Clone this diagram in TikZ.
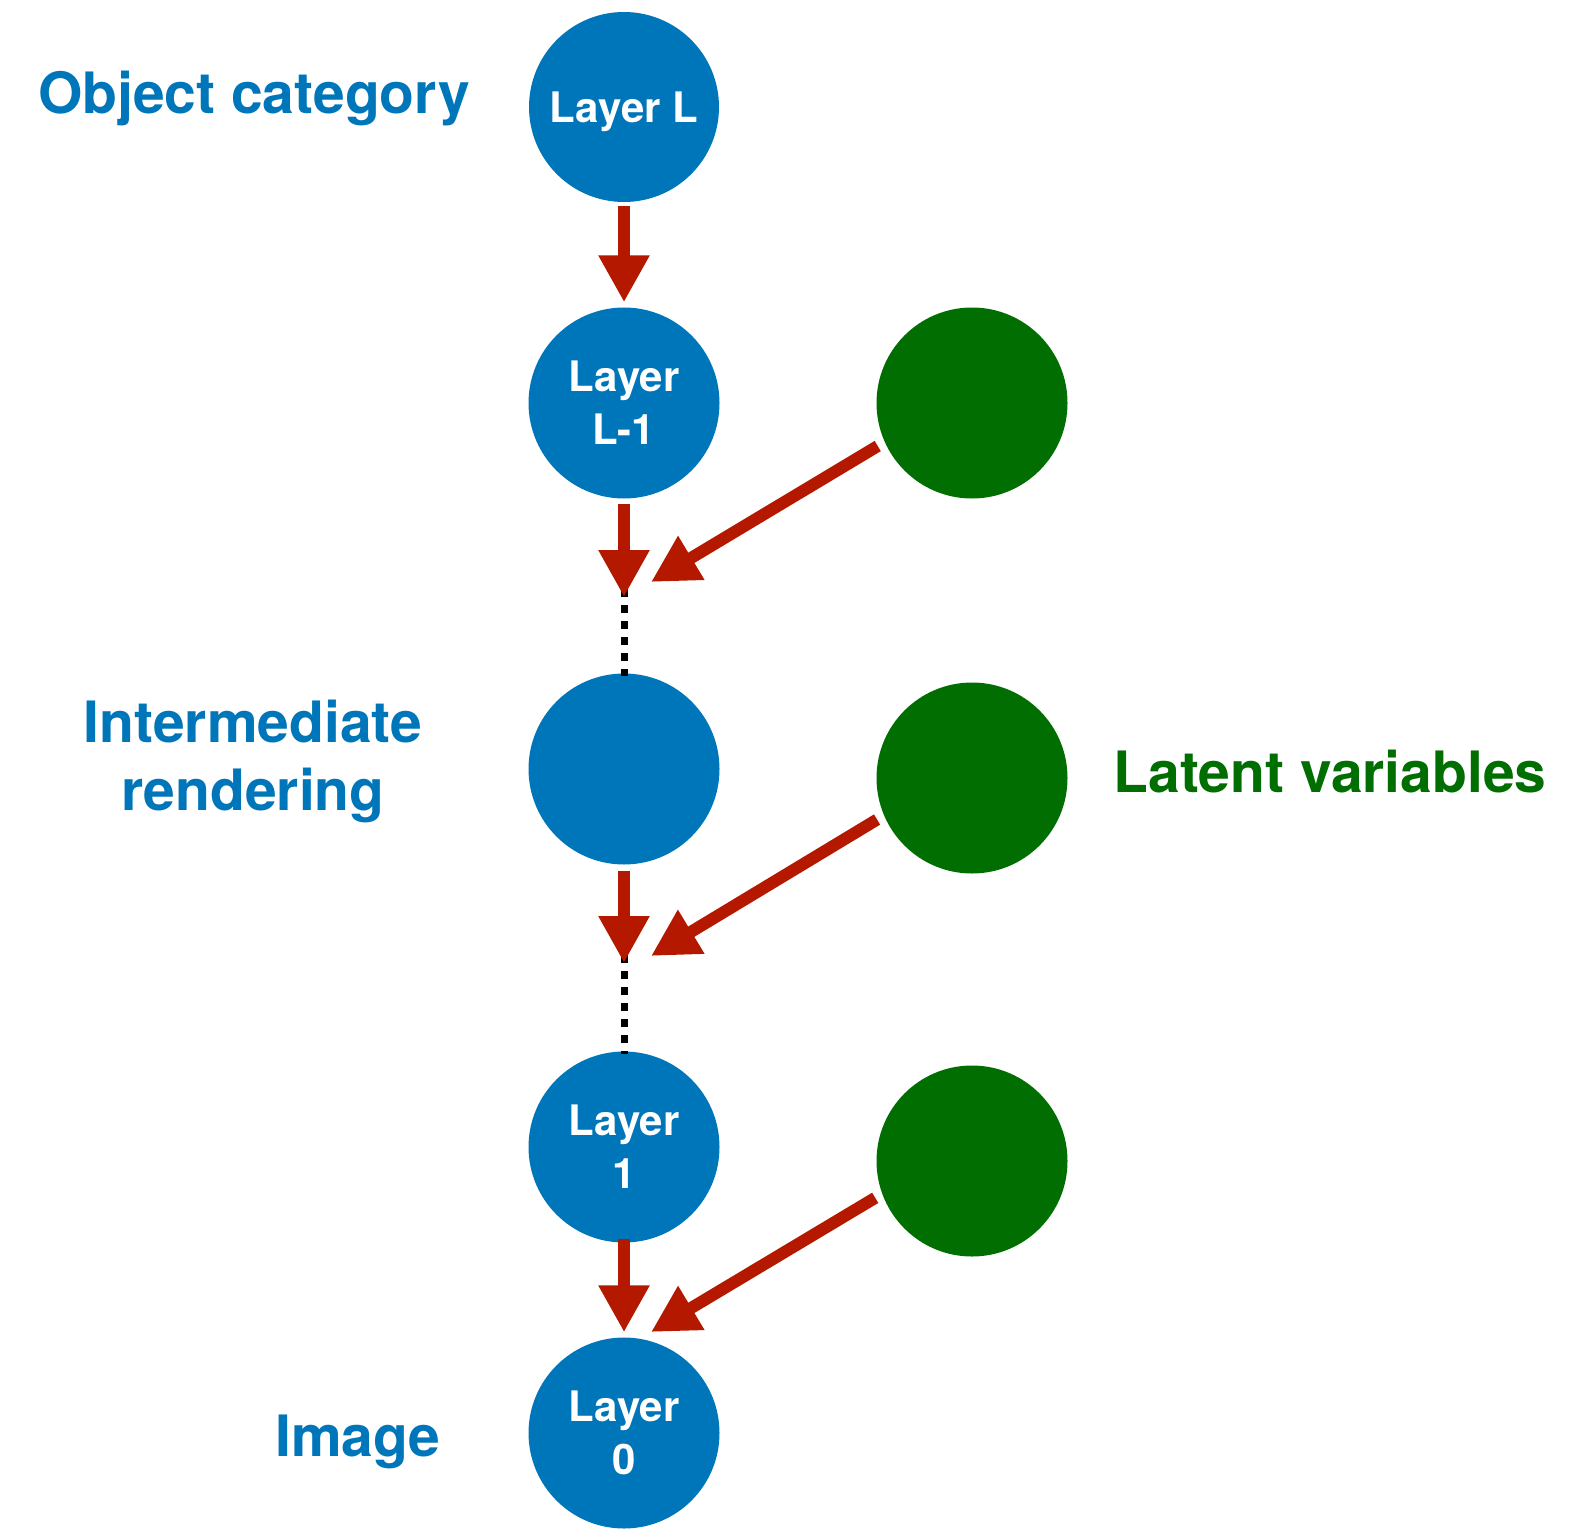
\documentclass[tikz,border=0pt]{standalone}
\usepackage{fontspec}
\usepackage{tikz}
\usetikzlibrary{arrows.meta}

\newfontfamily\heros{TeX Gyre Heros}
\definecolor{layerblue}{RGB}{0,118,186}
\definecolor{latentgreen}{RGB}{0,110,0}
\definecolor{arrowred}{RGB}{180,25,0}

\begin{document}
\begin{tikzpicture}[x=1pt,y=-1pt,
        layer/.style={circle, fill=layerblue, inner sep=0pt, minimum size=191pt,
            text=white, align=center, text depth=0pt,
            font=\heros\bfseries\fontsize{42}{53}\selectfont},
        latent/.style={circle, fill=latentgreen, inner sep=0pt, minimum size=191pt},
        flow/.style={draw=arrowred, line width=12pt,
            -{Triangle[width=48pt,length=47pt]}},
        dots/.style={draw=black, line width=7pt, dash pattern=on 8pt off 8pt},
        side/.style={font=\heros\bfseries\fontsize{57}{68}\selectfont, align=center}
    ]
    \useasboundingbox (0,0) rectangle (1573,1530);

    % rendering layers, top to bottom
    \node[layer, minimum size=190pt] (layL) at (624,107) {Layer L};
    \node[layer] (layLm) at (624,403) {Layer\\L-1};
    \node[layer] (laymid) at (624,769) {};
    \node[layer] (lay1) at (624,1147) {Layer\\1};
    \node[layer] (lay0) at (624,1433) {Layer\\0};

    % latent variables
    \node[latent] (lat1) at (972,403) {};
    \node[latent] (lat2) at (972,778) {};
    \node[latent] (lat3) at (972,1161) {};

    % where the arrows meet
    \coordinate (gap1) at (624,597);
    \coordinate (gap2) at (624,963);
    \coordinate (join1) at (651,582);
    \coordinate (join2) at (651,956);
    \coordinate (join3) at (651,1332);

    % skipped layers
    \draw[dots] ([yshift=8pt]gap1) -- ([yshift=-3pt]laymid.north);
    \draw[dots] ([yshift=8pt]gap2) -- ([yshift=-3pt]lay1.north);

    \draw[flow, shorten <=4pt, shorten >=5pt] (layL) -- (layLm);
    \draw[flow, shorten <=5pt] (layLm) -- (gap1);
    \draw[flow, shorten <=6pt] (laymid) -- (gap2);
    \draw[flow, shorten <=-4pt, shorten >=5pt] (lay1) -- (lay0);

    \draw[flow, shorten <=8pt] (lat1.204) -- (join1);
    \draw[flow, shorten <=8pt] (lat2.203) -- (join2);
    \draw[flow, shorten <=8pt] (lat3.200) -- (join3);

    % labels
    \node[side, text=layerblue, anchor=base] (objcat) at (254,114) {Object category};
    \node[side, text=layerblue] (interm) at (253,761) {Intermediate\\rendering};
    \node[side, text=layerblue, anchor=base] (image) at (358,1456) {Image};
    \node[side, text=latentgreen, anchor=base] (latvar) at (1330,792) {Latent variables};
\end{tikzpicture}
\end{document}
